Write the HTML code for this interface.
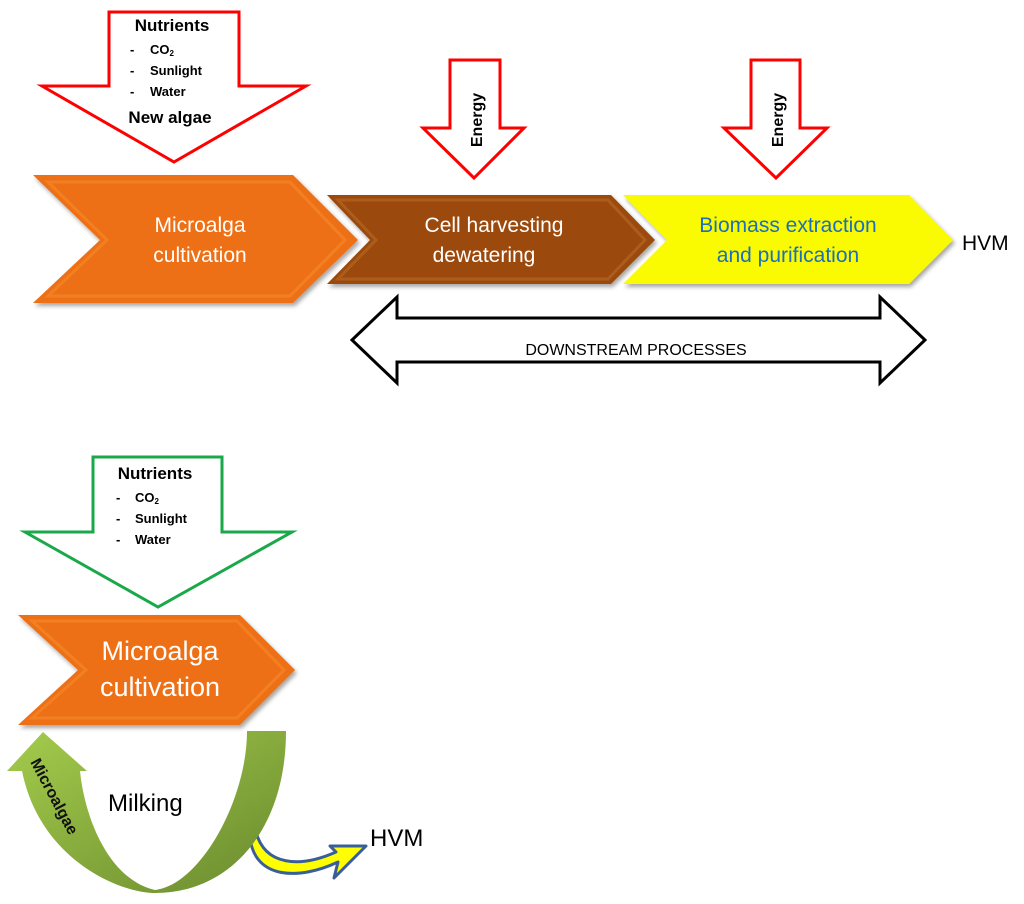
<!DOCTYPE html>
<html><head><meta charset="utf-8"><style>
html,body{margin:0;padding:0;background:#fff;}
svg{display:block;font-family:"Liberation Sans",sans-serif;}
</style></head><body>
<svg width="1024" height="904" viewBox="0 0 1024 904" xmlns="http://www.w3.org/2000/svg">
<defs>
<filter id="sh" x="-5%" y="-5%" width="115%" height="125%"><feDropShadow dx="2" dy="3" stdDeviation="2" flood-color="#000" flood-opacity="0.35"/></filter>
<linearGradient id="gg" x1="0" y1="0" x2="1" y2="1"><stop offset="0" stop-color="#a4cc4c"/><stop offset="1" stop-color="#6a8a2e"/></linearGradient>
</defs>
<polygon points="109,12 239,12 239,86 306,86 174,162 42,86 109,86" fill="#fff" stroke="#f00" stroke-width="3"/>
<text x="172" y="31" font-size="17" font-weight="bold" text-anchor="middle">Nutrients</text>
<g font-size="13" font-weight="bold"><text x="130" y="54">-</text><text x="150" y="54">CO<tspan font-size="8" dy="2">2</tspan></text>
<text x="130" y="75">-</text><text x="150" y="75">Sunlight</text>
<text x="130" y="96">-</text><text x="150" y="96">Water</text></g>
<text x="170" y="123" font-size="17" font-weight="bold" text-anchor="middle">New algae</text>

<polygon points="450,60 500,60 500,128 524,128 474,178 423,128 450,128" fill="#fff" stroke="#f00" stroke-width="3"/>
<text transform="translate(482,120) rotate(-90)" font-size="16" font-weight="bold" text-anchor="middle">Energy</text>
<polygon points="751,60 800,60 800,128 827,128 776,178 724,128 751,128" fill="#fff" stroke="#f00" stroke-width="3"/>
<text transform="translate(783,120) rotate(-90)" font-size="16" font-weight="bold" text-anchor="middle">Energy</text>

<g filter="url(#sh)">
<polygon points="33,175 293,175 358,240 293,303 33,303 100,240" fill="#ee7012"/>
<polygon points="48,182 290,182 345,240 290,296 48,296 107,240" fill="none" stroke="#f58a2c" stroke-width="3" opacity="0.6"/>
<polygon points="327,195 611,195 655,240 611,284 327,284 370,240" fill="#9c4a08"/>
<polygon points="338,200 608,200 645,240 608,279 338,279 376,240" fill="none" stroke="#b86a2a" stroke-width="3" opacity="0.6"/>
<polygon points="623,195 909,195 953,240 909,284 623,284 667,240" fill="#fafa00"/>
</g>
<g fill="#fff" font-size="21" text-anchor="middle">
<text x="200" y="232">Microalga</text><text x="200" y="262">cultivation</text>
<text x="494" y="232">Cell harvesting</text><text x="484" y="262">dewatering</text>
</g>
<g fill="#1a6fc0" font-size="21" text-anchor="middle">
<text x="788" y="232">Biomass extraction</text><text x="788" y="262">and purification</text>
</g>
<text x="962" y="250" font-size="21">HVM</text>

<polygon points="352,340 397,297 397,318 880,318 880,297 925,340 880,383 880,362 397,362 397,383" fill="#fff" stroke="#000" stroke-width="3"/>
<text x="636" y="355" font-size="16" text-anchor="middle">DOWNSTREAM PROCESSES</text>

<polygon points="93,457 222,457 222,532 292,532 158,607 25,532 93,532" fill="#fff" stroke="#1aa84a" stroke-width="3"/>
<text x="155" y="479" font-size="17" font-weight="bold" text-anchor="middle">Nutrients</text>
<g font-size="13" font-weight="bold"><text x="116" y="502">-</text><text x="135" y="502">CO<tspan font-size="8" dy="2">2</tspan></text>
<text x="116" y="523">-</text><text x="135" y="523">Sunlight</text>
<text x="116" y="544">-</text><text x="135" y="544">Water</text></g>

<g filter="url(#sh)">
<polygon points="18,615 240,615 295,670 240,725 18,725 78,670" fill="#ee7012"/>
<polygon points="32,621 237,621 284,670 237,718 32,718 86,670" fill="none" stroke="#f58a2c" stroke-width="3" opacity="0.6"/>
</g>
<g fill="#fff" font-size="27" text-anchor="middle">
<text x="160" y="660">Microalga</text><text x="160" y="696">cultivation</text>
</g>

<path d="M250,838 C255,880 300,880 338,862 L334,878 L366,846 L330,846 L336,852 C300,868 265,866 256,832 Z" fill="#ffff00" stroke="#3a5f98" stroke-width="3" stroke-linejoin="round"/>
<text x="370" y="846" font-size="24">HVM</text>

<path d="M286,731 L247,731 C247,800 200,885 155,890 C110,880 85,820 80,771 L87,771 L43,732 L7,771 L22,771 C40,860 120,893 155,893 C230,893 286,830 286,731 Z" fill="url(#gg)"/>
<text transform="translate(30,762) rotate(62)" font-size="16" font-weight="bold" fill="#111">Microalgae</text>
<text x="108" y="811" font-size="24">Milking</text>
</svg>
</body></html>
